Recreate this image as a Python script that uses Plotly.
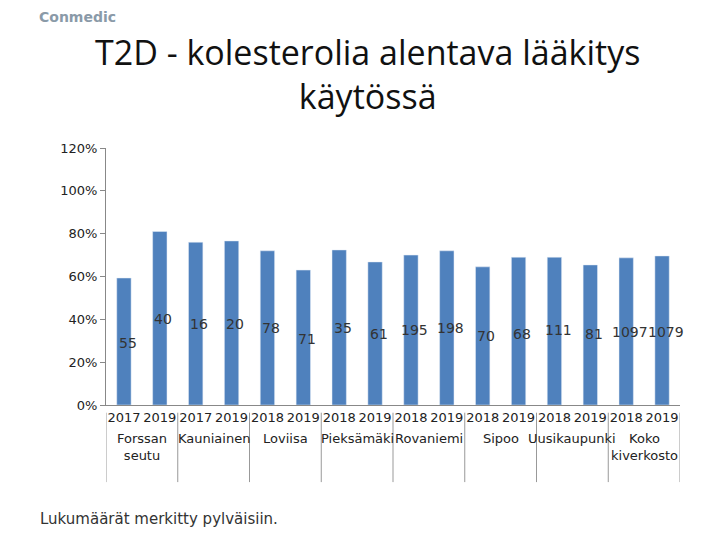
import plotly.graph_objects as go

years = ["2017","2019","2017","2019","2018","2019","2018","2019","2018","2019","2018","2019","2018","2019","2018","2019"]
groups = ["Forssan<br>seutu","Kauniainen","Loviisa","Pieksämäki","Rovaniemi","Sipoo","Uusikaupunki","Koko<br>kiverkosto"]
shares = [59.3,81,76,76.6,72,63,72.4,66.8,70,72,64.5,69,69,65.4,68.7,69.6]
counts = ["55","40","16","20","78","71","35","61","195","198","70","68","111","81","1097","1079"]
label_y = [29,40,38,38,36,31,36,33,35,36,32,33,35,33,34,34]

x = list(range(len(shares)))
fig = go.Figure(go.Bar(x=x, y=[v/100 for v in shares], marker_color="#4f81bd", width=0.4))
ann = []
for i,(c,ly) in enumerate(zip(counts,label_y)):
    ann.append(dict(x=i+0.1, y=ly/100, text=c, showarrow=False, font=dict(size=14, color="#333")))
for i,g in enumerate(groups):
    ann.append(dict(x=2*i+0.5, y=-0.095, yref="paper", text=g, showarrow=False, yanchor="top",
                    font=dict(size=13, color="#222")))
ann.append(dict(x=-0.118, y=-0.40, xref="paper", yref="paper", text="Lukumäärät merkitty pylväisiin.",
                showarrow=False, xanchor="left", yanchor="top", font=dict(size=15, color="#333")))
ann.append(dict(x=-0.12, y=1.55, xref="paper", yref="paper", text="<b>Conmedic</b>",
                showarrow=False, xanchor="left", yanchor="top", font=dict(size=14, color="#8a9aa8")))
ann.append(dict(x=0.456, y=1.47, xref="paper", yref="paper", text="T2D - kolesterolia alentava lääkitys<br>käytössä",
                showarrow=False, font=dict(family="Open Sans", size=34, color="#111"), yanchor="top"))
shapes = [dict(type="line", xref="x", yref="paper", x0=k-0.5, x1=k-0.5, y0=-0.03, y1=-0.30,
               line=dict(color="#999", width=1)) for k in range(0,17,2)]
fig.update_layout(
    width=720, height=540, paper_bgcolor="white", plot_bgcolor="white",
    margin=dict(l=98, r=48, t=140, b=143), showlegend=False,
    font=dict(family="DejaVu Sans", size=13, color="#222"),
    xaxis=dict(tickmode="array", tickvals=x, ticktext=years, showline=True, linecolor="#888",
               range=[-0.5,15.5], tickfont=dict(size=13)),
    yaxis=dict(range=[0,1.2], tickformat=".0%", dtick=0.2, showgrid=False, showline=True,
               linecolor="#888", ticks="outside", ticklen=5, tickcolor="#888", tickfont=dict(size=13)),
    annotations=ann, shapes=shapes)
fig.write_html("out.html")
